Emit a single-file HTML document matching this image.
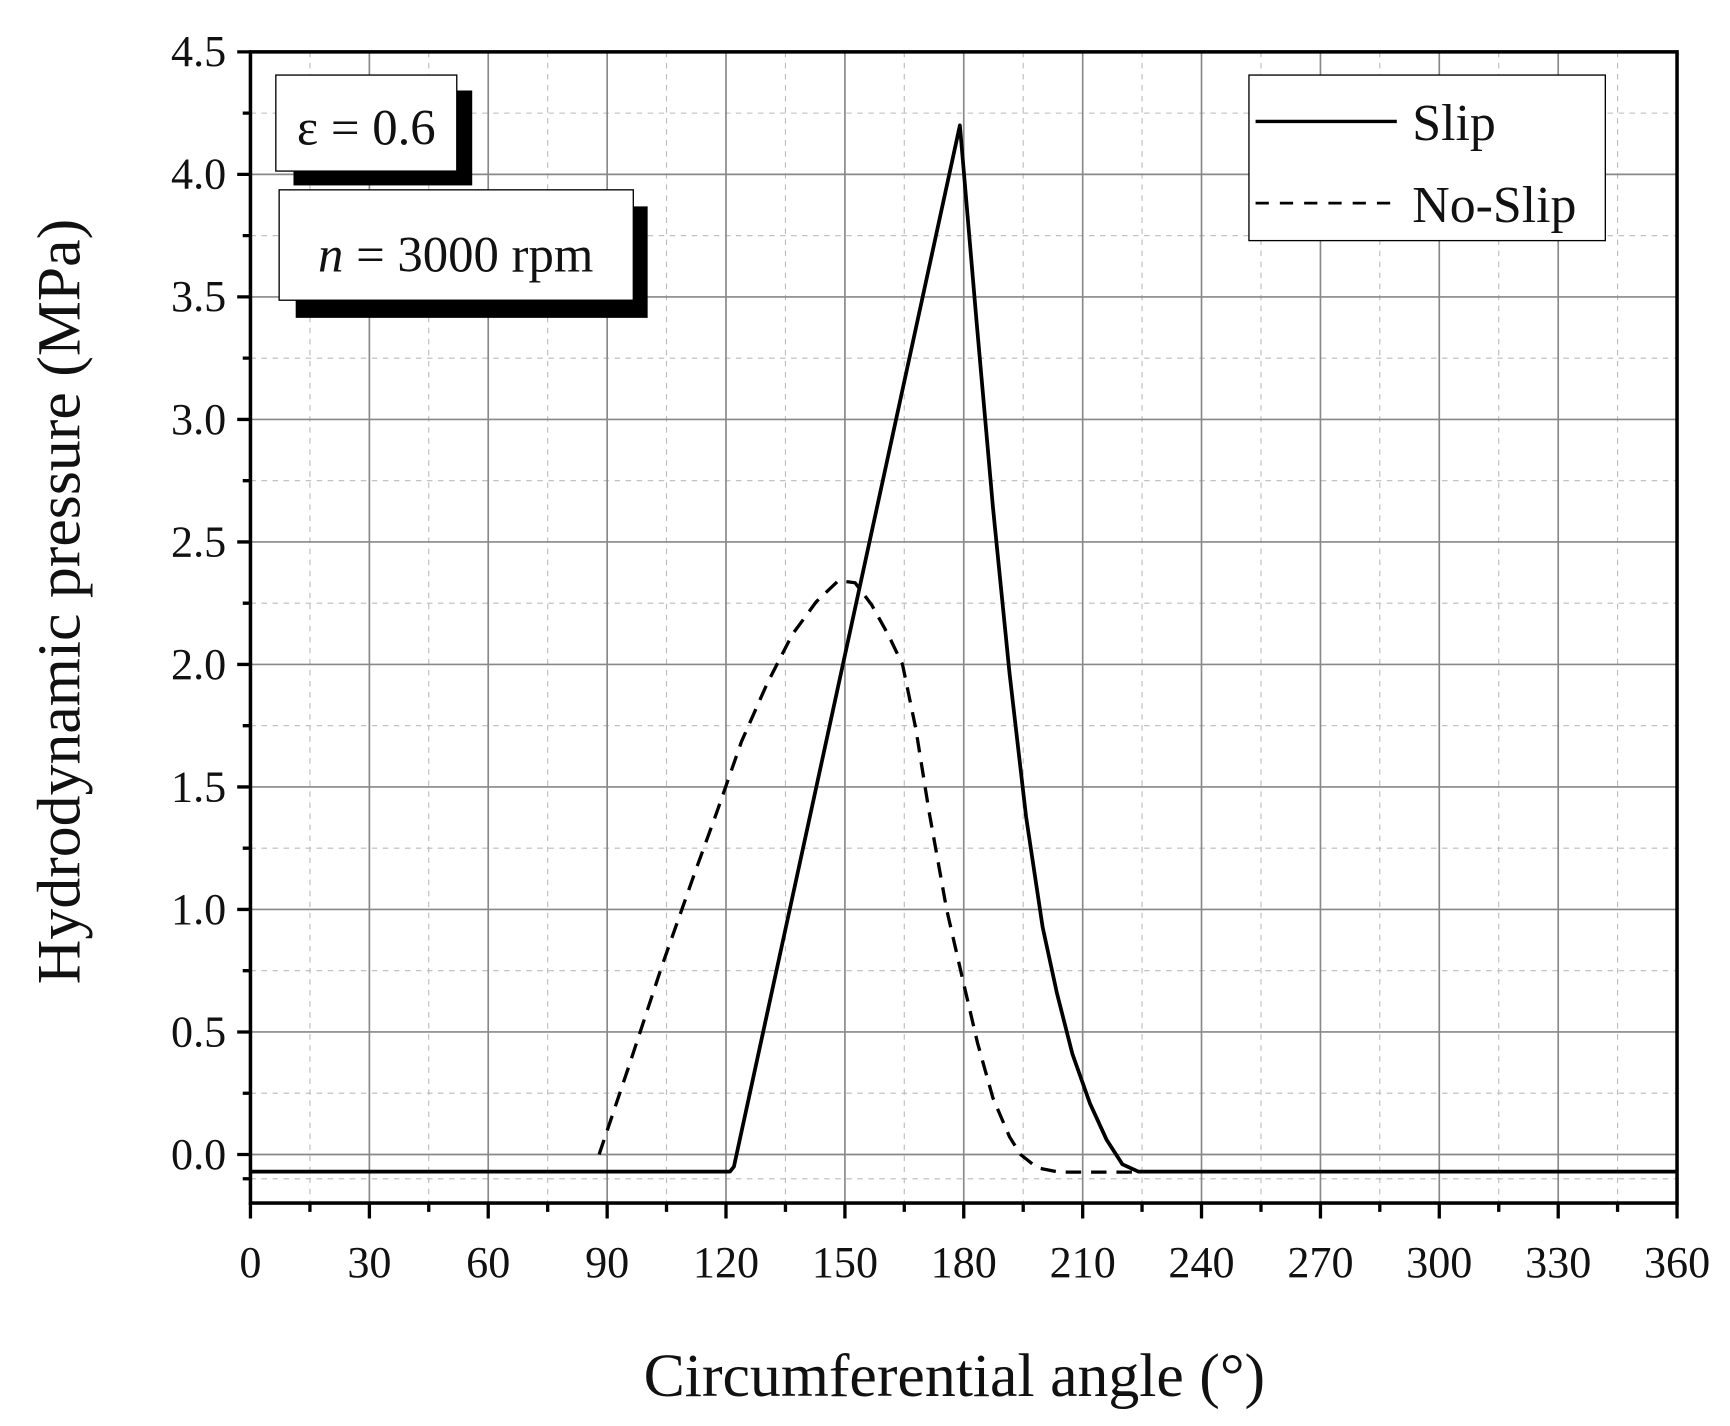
<!DOCTYPE html>
<html><head><style>html,body{margin:0;padding:0;background:#fff;}svg{display:block;}</style></head>
<body>
<svg width="1730" height="1426" viewBox="0 0 1568 1292" preserveAspectRatio="none" xmlns="http://www.w3.org/2000/svg" font-family="Liberation Serif, serif">
<g stroke="#bbb" stroke-width="1" stroke-dasharray="5,5">
<path d="M280.9 47V1090M388.6 47V1090M496.4 47V1090M604.1 47V1090M711.9 47V1090M819.6 47V1090M927.4 47V1090M1035.1 47V1090M1142.9 47V1090M1250.6 47V1090M1358.4 47V1090M1466.1 47V1090"/>
<path d="M227 102.5H1520M227 213.5H1520M227 324.5H1520M227 435.5H1520M227 546.5H1520M227 657.5H1520M227 768.5H1520M227 879.5H1520M227 990.5H1520M227 1068H1520"/>
</g>
<g stroke="#888" stroke-width="1.5">
<path d="M334.8 47V1090M442.5 47V1090M550.3 47V1090M658 47V1090M765.8 47V1090M873.5 47V1090M981.3 47V1090M1089 47V1090M1196.8 47V1090M1304.5 47V1090M1412.3 47V1090"/>
<path d="M227 158H1520M227 269H1520M227 380H1520M227 491H1520M227 602H1520M227 713H1520M227 824H1520M227 935H1520M227 1046H1520"/>
</g>
<rect x="227" y="47" width="1293" height="1043" fill="none" stroke="#000" stroke-width="3.2"/>
<g stroke="#000" stroke-width="3">
<path d="M227 1090v14M334.8 1090v14M442.5 1090v14M550.3 1090v14M658 1090v14M765.8 1090v14M873.5 1090v14M981.3 1090v14M1089 1090v14M1196.8 1090v14M1304.5 1090v14M1412.3 1090v14M1520 1090v14"/>
<path d="M280.9 1090v8M388.6 1090v8M496.4 1090v8M604.1 1090v8M711.9 1090v8M819.6 1090v8M927.4 1090v8M1035.1 1090v8M1142.9 1090v8M1250.6 1090v8M1358.4 1090v8M1466.1 1090v8"/>
<path d="M227 47h-12M227 158h-12M227 269h-12M227 380h-12M227 491h-12M227 602h-12M227 713h-12M227 824h-12M227 935h-12M227 1046h-12"/>
<path d="M227 102.5h-7M227 213.5h-7M227 324.5h-7M227 435.5h-7M227 546.5h-7M227 657.5h-7M227 768.5h-7M227 879.5h-7M227 990.5h-7M227 1068h-7"/>
</g>
<g font-size="40" text-anchor="end" fill="#111">
<text x="205" y="60">4.5</text><text x="205" y="171">4.0</text><text x="205" y="282">3.5</text><text x="205" y="393">3.0</text><text x="205" y="504">2.5</text><text x="205" y="615">2.0</text><text x="205" y="726">1.5</text><text x="205" y="837">1.0</text><text x="205" y="948">0.5</text><text x="205" y="1059">0.0</text>
</g>
<g font-size="40" text-anchor="middle" fill="#111">
<text x="227" y="1157">0</text><text x="334.8" y="1157">30</text><text x="442.5" y="1157">60</text><text x="550.3" y="1157">90</text><text x="658" y="1157">120</text><text x="765.8" y="1157">150</text><text x="873.5" y="1157">180</text><text x="981.3" y="1157">210</text><text x="1089" y="1157">240</text><text x="1196.8" y="1157">270</text><text x="1304.5" y="1157">300</text><text x="1412.3" y="1157">330</text><text x="1520" y="1157">360</text>
</g>
<text x="865" y="1265" font-size="56" text-anchor="middle" fill="#111">Circumferential angle (°)</text>
<text transform="translate(72,545) rotate(-90)" font-size="56" text-anchor="middle" fill="#111">Hydrodynamic pressure (MPa)</text>
<polyline fill="none" stroke="#000" stroke-width="3.4" stroke-linejoin="round" points="227,1061.5 661.6,1061.5 665.2,1057 870,113.6 885,290 900,460 915,610 930,740 945,840 958,900 972,955 988,1000 1003,1032.7 1017.3,1054.9 1031.7,1061.5 1520,1061.5"/>
<polyline fill="none" stroke="#000" stroke-width="3" stroke-dasharray="14,9" stroke-linejoin="round" points="543,1046 570,966 600,875 630,790 650,735 672,672 695,620 718,575 740,545 760,526 775,528 790,548 805,575 818,602 830,660 842,735 858,824 872,885 886,945 900,995 915,1030 925,1046 940,1058 960,1062 1030,1062"/>
<rect x="266" y="82" width="162" height="86" fill="#000"/>
<rect x="250" y="68" width="164" height="87" fill="#fff" stroke="#000" stroke-width="1.2"/>
<text x="332" y="131" font-size="46" text-anchor="middle" fill="#111">ε = 0.6</text>
<rect x="268" y="187" width="319" height="101" fill="#000"/>
<rect x="253" y="172" width="321" height="100" fill="#fff" stroke="#000" stroke-width="1.2"/>
<text x="413" y="246" font-size="46" text-anchor="middle" fill="#111"><tspan font-style="italic">n</tspan> = 3000 rpm</text>
<rect x="1132" y="68" width="323" height="150" fill="#fff" stroke="#000" stroke-width="1.2"/>
<line x1="1138" y1="110" x2="1266" y2="110" stroke="#000" stroke-width="3"/>
<text x="1280" y="127" font-size="47" fill="#111">Slip</text>
<line x1="1138" y1="184" x2="1266" y2="184" stroke="#000" stroke-width="2.5" stroke-dasharray="12,10"/>
<text x="1280" y="201" font-size="47" fill="#111">No-Slip</text>
</svg>
</body></html>
